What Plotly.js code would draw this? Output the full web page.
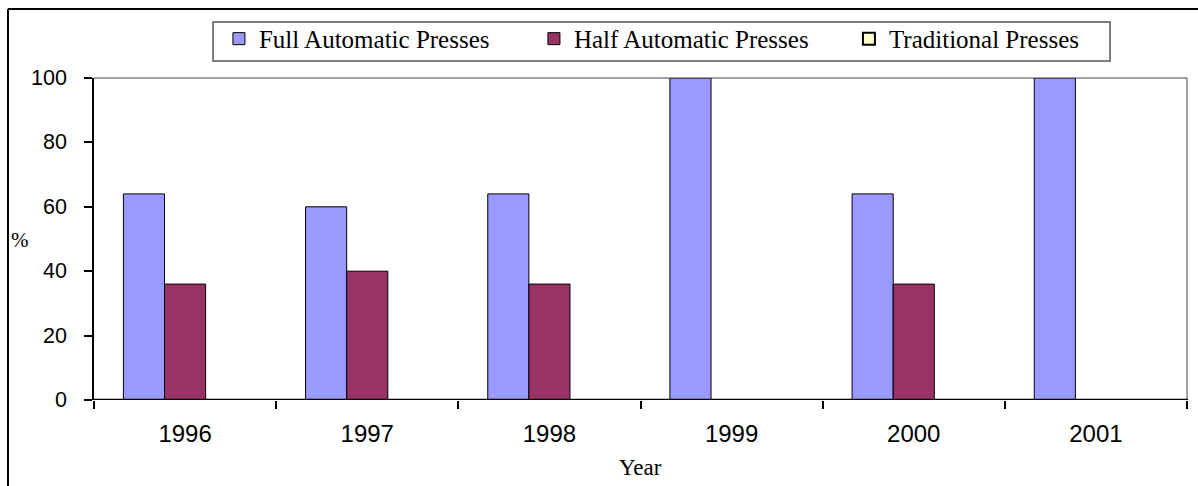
<!DOCTYPE html>
<html>
<head>
<meta charset="utf-8">
<script src="https://cdn.plot.ly/plotly-3.0.1.min.js"></script>
<style>html,body{margin:0;padding:0;background:#fff;}#chart{width:1198px;height:486px;}</style>
</head>
<body>
<div id="chart"></div>
<script>
const years = ['1996', '1997', '1998', '1999', '2000', '2001'];
const fullAutomatic = [64, 60, 64, 100, 64, 100];
const halfAutomatic = [36, 40, 36, 0, 36, 0];
const traditional = [0, 0, 0, 0, 0, 0];
const seriesNames = ['Full Automatic Presses', 'Half Automatic Presses', 'Traditional Presses'];
const yTicks = [0, 20, 40, 60, 80, 100];

const colors = ['#9999FF', '#993366', '#FFFFCC'];
const seriesValues = [fullAutomatic, halfAutomatic, traditional];

const serif = 'Liberation Serif, Times New Roman, serif';
const sans = 'Liberation Sans, Arial, sans-serif';

const data = seriesValues.map((vals, i) => ({
  type: 'bar',
  name: seriesNames[i],
  x: years,
  y: vals,
  marker: {color: colors[i], line: {color: '#000', width: i === 2 ? 2 : 1}},
  hoverinfo: 'x+y+name'
}));

const yTickLabels = yTicks.map(v => ({
  text: String(v), xref: 'paper', yref: 'y', x: -0.0225, y: v,
  xanchor: 'right', yanchor: 'middle', showarrow: false,
  font: {family: sans, size: 21.5, color: '#000'}
}));

const layout = {
  width: 1198,
  height: 486,
  margin: {l: 94, r: 11, t: 78, b: 86},
  paper_bgcolor: '#fff',
  plot_bgcolor: '#fff',
  barmode: 'group',
  bargap: 0.323,
  bargroupgap: 0,
  showlegend: true,
  legend: {
    orientation: 'h',
    x: 0.1143, xanchor: 'left',
    y: 1.05, yanchor: 'bottom',
    borderwidth: 0,
    bgcolor: 'rgba(0,0,0,0)',
    font: {family: serif, size: 25, color: '#000'},
    entrywidth: 270,
    itemwidth: 30,
    traceorder: 'normal'
  },
  xaxis: {
    type: 'category',
    tickson: 'boundaries',
    ticks: 'outside', ticklen: 8, tickwidth: 2, tickcolor: '#000',
    showline: false,
    showgrid: false, zeroline: false,
    ticklabelstandoff: 17,
    tickfont: {family: sans, size: 24, color: '#000'}
  },
  yaxis: {
    range: [0, 100],
    tickvals: yTicks,
    showticklabels: false,
    ticks: 'outside', ticklen: 8, tickwidth: 2, tickcolor: '#000',
    showline: true, linecolor: '#000', linewidth: 2,
    showgrid: false, zeroline: false
  },
  annotations: [
    ...yTickLabels,
    {text: '%', xref: 'paper', yref: 'paper', x: -0.0677, y: 0.497, xanchor: 'center', yanchor: 'middle', showarrow: false, font: {family: serif, size: 21, color: '#000'}},
    {text: 'Year', xref: 'paper', yref: 'paper', x: 0.5, y: -0.211, xanchor: 'center', yanchor: 'middle', showarrow: false, font: {family: serif, size: 23, color: '#000'}}
  ],
  shapes: [
    {type: 'line', xref: 'paper', yref: 'paper', x0: 0, x1: 1, y0: 1, y1: 1, line: {color: '#444', width: 1}},
    {type: 'line', xref: 'paper', yref: 'paper', x0: 1, x1: 1, y0: 0, y1: 1, line: {color: '#444', width: 1}},
    {type: 'line', xref: 'paper', yref: 'y', x0: -0.001, x1: 1.001, y0: 0, y1: 0, line: {color: '#000', width: 2.5}},
    {type: 'rect', xref: 'paper', yref: 'paper', x0: 0.1089, x1: 0.9296, y0: 1.0528, y1: 1.174, line: {color: '#555', width: 1.5}},
    {type: 'line', xref: 'paper', yref: 'paper', x0: -0.0787, x1: 1.1, y0: 1.2143, y1: 1.2143, line: {color: '#000', width: 2}},
    {type: 'line', xref: 'paper', yref: 'paper', x0: -0.0787, x1: -0.0787, y0: -0.3, y1: 1.2143, line: {color: '#000', width: 2}}
  ]
};

Plotly.newPlot('chart', data, layout, {displayModeBar: false, staticPlot: true});
</script>
</body>
</html>
